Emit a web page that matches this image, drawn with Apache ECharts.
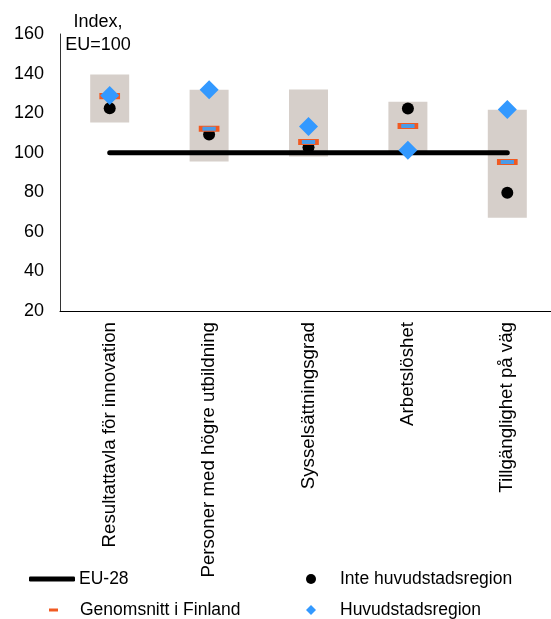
<!DOCTYPE html>
<html>
<head>
<meta charset="utf-8">
<script src="https://cdn.jsdelivr.net/npm/echarts@6/dist/echarts.min.js"></script>
<style>
  html, body { margin: 0; padding: 0; background: #fff; }
  #chart { width: 551px; height: 619px; }
</style>
</head>
<body>
<div id="chart"></div>
<script>
// Indicators (Index, EU = 100)
const categories = [
  'Resultattavla för innovation',
  'Personer med högre utbildning',
  'Sysselsättningsgrad',
  'Arbetslöshet',
  'Tillgänglighet på väg'
];
// Regional spread: lowest and highest region
const rangeLow  = [115.3, 95.5, 98.1, 100.0, 67.1];
const rangeHigh = [139.5, 131.8, 132.0, 125.7, 121.7];
const eu28      = [100, 100, 100, 100, 100];
const finlandAvg   = [128.6, 112.1, 105.4, 113.5, 95.3];
const nonCapital   = [122.5, 109.2, 102.7, 122.3, 79.8];
const capital      = [128.9, 131.8, 113.3, 101.2, 121.8];
const yTicks = [20, 40, 60, 80, 100, 120, 140, 160];

const FONT = '"Liberation Sans", Arial, sans-serif';
const chart = echarts.init(document.getElementById('chart'), null, { renderer: 'canvas' });

const rangeData = categories.map((c, i) => [i, rangeLow[i], rangeHigh[i]]);

chart.setOption({
  animation: false,
  textStyle: { fontFamily: FONT },
  title: {
    text: 'Index,\nEU=100',
    left: 93,
    top: 6,
    textAlign: 'center',
    textStyle: { fontFamily: FONT, fontSize: 18, fontWeight: 'normal', color: '#000', lineHeight: 23 }
  },
  grid: { left: 60, top: 34, width: 497, height: 277, containLabel: false, outerBoundsMode: 'none' },
  xAxis: {
    type: 'category',
    data: categories,
    axisLine: { show: true, lineStyle: { color: '#000', width: 1 } },
    axisTick: { show: false },
    axisLabel: {
      rotate: 90,
      interval: 0,
      margin: 11,
      fontSize: 18.7,
      color: '#000',
      fontFamily: FONT
    },
    splitLine: { show: false }
  },
  yAxis: {
    type: 'value',
    min: yTicks[0],
    max: yTicks[yTicks.length - 1],
    interval: 20,
    axisLine: { show: true, lineStyle: { color: '#333', width: 1 } },
    axisTick: { show: false },
    axisLabel: { fontSize: 18, color: '#000', margin: 16, fontFamily: FONT },
    splitLine: { show: false }
  },
  legend: [
    {
      data: [{ name: 'EU-28', icon: 'roundRect' }],
      left: 24, top: 565, itemWidth: 46, itemHeight: 5,
      textStyle: { fontSize: 17.5, color: '#000', fontFamily: FONT, padding: [0, 0, 0, -1] },
      selectedMode: false
    },
    {
      data: [{ name: 'Genomsnitt i Finland', icon: 'rect', itemStyle: { color: '#f05a22', borderWidth: 0 } }],
      left: 44, top: 596, itemWidth: 9, itemHeight: 3,
      textStyle: { fontSize: 17.5, color: '#000', fontFamily: FONT, padding: [0, 0, 0, 17] },
      selectedMode: false
    },
    {
      data: [{ name: 'Inte huvudstadsregion', icon: 'circle' }],
      left: 301, top: 565, itemWidth: 10, itemHeight: 10,
      textStyle: { fontSize: 17.5, color: '#000', fontFamily: FONT, padding: [0, 0, 0, 19] },
      selectedMode: false
    },
    {
      data: [{ name: 'Huvudstadsregion', icon: 'diamond' }],
      left: 301, top: 596, itemWidth: 10, itemHeight: 10,
      textStyle: { fontSize: 17.5, color: '#000', fontFamily: FONT, padding: [0, 0, 0, 19] },
      selectedMode: false
    }
  ],
  series: [
    {
      name: 'Spridning',
      type: 'custom',
      z: 1,
      data: rangeData,
      encode: { x: 0, y: [1, 2] },
      renderItem: function (params, api) {
        const lo = api.coord([api.value(0), api.value(1)]);
        const hi = api.coord([api.value(0), api.value(2)]);
        const w = 39;
        return {
          type: 'rect',
          shape: { x: lo[0] - w / 2, y: hi[1], width: w, height: lo[1] - hi[1] },
          style: { fill: '#d6cfca' }
        };
      }
    },
    {
      name: 'EU-28',
      type: 'line',
      z: 2,
      data: eu28,
      symbol: 'none',
      lineStyle: { color: '#000', width: 5, cap: 'round' },
      itemStyle: { color: '#000' }
    },
    {
      name: 'Inte huvudstadsregion',
      type: 'scatter',
      z: 3,
      data: nonCapital,
      symbol: 'circle',
      symbolSize: 12,
      itemStyle: { color: '#000', opacity: 1 }
    },
    {
      name: 'Genomsnitt i Finland',
      type: 'scatter',
      z: 4,
      data: finlandAvg,
      symbol: 'rect',
      symbolSize: [17, 5],
      itemStyle: { color: '#4a9be8', borderColor: '#f05a22', borderWidth: 2, opacity: 1 }
    },
    {
      name: 'Huvudstadsregion',
      type: 'scatter',
      z: 5,
      data: capital,
      symbol: 'diamond',
      symbolSize: 19,
      itemStyle: { color: '#3399ff', opacity: 1 }
    }
  ]
});
</script>
</body>
</html>
